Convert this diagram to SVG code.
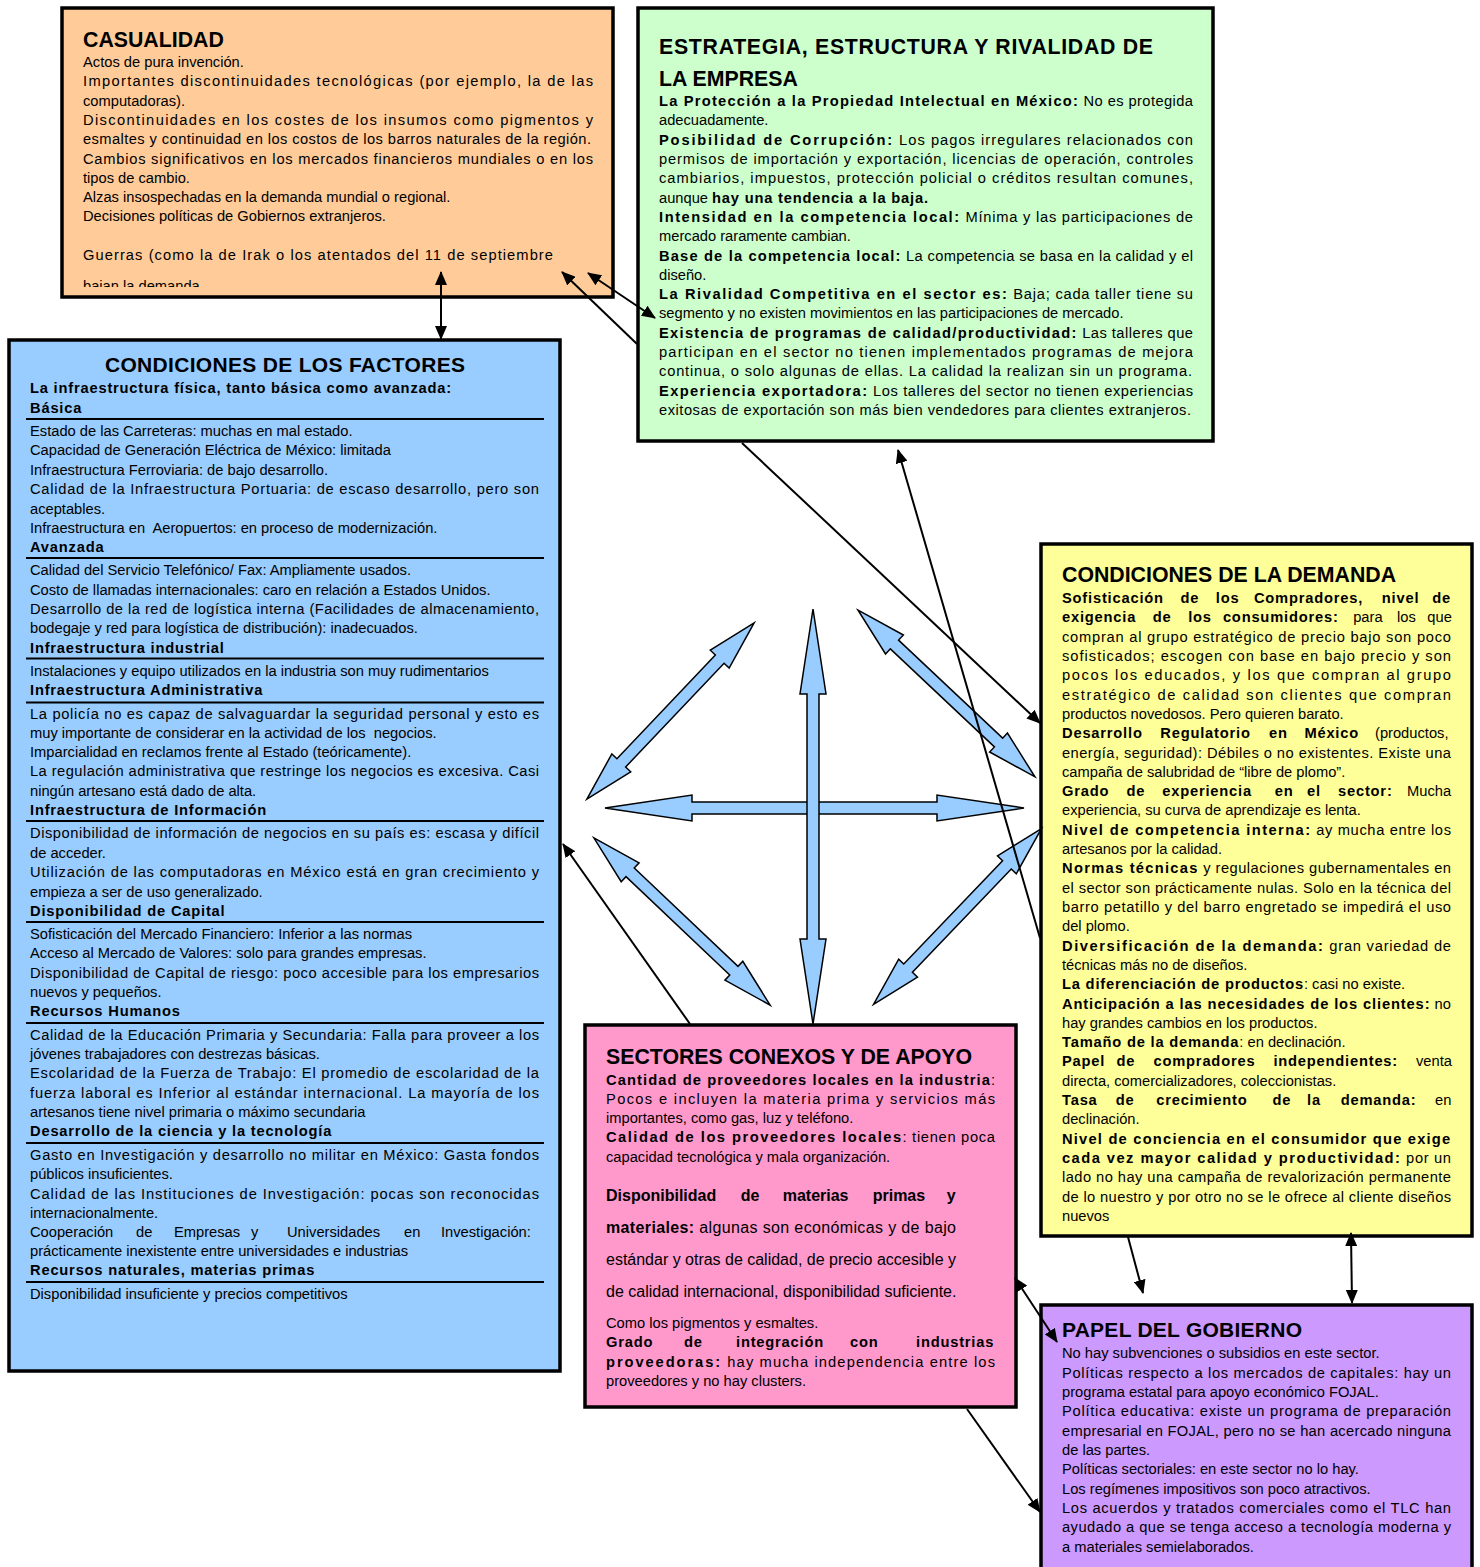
<svg xmlns="http://www.w3.org/2000/svg" xmlns:xlink="http://www.w3.org/1999/xlink" width="1480" height="1567" viewBox="0 0 1480 1567">
<style>
.box{stroke:#000;stroke-width:3.5}
.t{font-family:"Liberation Sans",Arial,sans-serif;font-size:14.7px;fill:#000}
.b{font-weight:bold;letter-spacing:0.8px}
.h{font-family:"Liberation Sans",Arial,sans-serif;font-size:21.3px;font-weight:bold;fill:#000}
.a{font-family:"Liberation Sans",Arial,sans-serif;font-size:16px;fill:#000}
.ab{font-weight:bold}
.sep{stroke:#000;stroke-width:2}
.c{stroke:#000;stroke-width:2;fill:none}
.blue{fill:#99CCFF;stroke:#000;stroke-width:1.5}
</style>
<defs>
<marker id="ah" viewBox="0 0 14 12" refX="13" refY="6" markerWidth="14" markerHeight="12" markerUnits="userSpaceOnUse" orient="auto-start-reverse"><path d="M0,0L14,6L0,12z" fill="#000"/></marker>
<polygon id="diag" points="-121.5,0 -71.5,-13 -71.5,-6 71.5,-6 71.5,-13 121.5,0 71.5,13 71.5,6 -71.5,6 -71.5,13"/>
<clipPath id="clipCas"><rect x="64" y="10" width="547" height="277"/></clipPath>
</defs>
<rect width="1480" height="1567" fill="#fff"/>

<g id="casualidad">
<rect class="box" x="62" y="8" width="551" height="289" fill="#FFCC99"/>
<text class="h" x="83" y="47">CASUALIDAD</text>
<g clip-path="url(#clipCas)">
<text class="t" x="83" y="67">Actos de pura invención.</text>
<text class="t" x="83" y="86.3" textLength="510" lengthAdjust="spacing">Importantes discontinuidades tecnológicas (por ejemplo, la de las</text>
<text class="t" x="83" y="105.6">computadoras).</text>
<text class="t" x="83" y="124.9" textLength="510" lengthAdjust="spacing">Discontinuidades en los costes de los insumos como pigmentos y</text>
<text class="t" x="83" y="144.2" textLength="508" lengthAdjust="spacing">esmaltes y continuidad en los costos de los barros naturales de la región.</text>
<text class="t" x="83" y="163.5" textLength="510" lengthAdjust="spacing">Cambios significativos en los mercados financieros mundiales o en los</text>
<text class="t" x="83" y="182.8">tipos de cambio.</text>
<text class="t" x="83" y="202.1">Alzas insospechadas en la demanda mundial o regional.</text>
<text class="t" x="83" y="221.4">Decisiones políticas de Gobiernos extranjeros.</text>
<text class="t" x="83" y="260" textLength="470" lengthAdjust="spacing">Guerras (como la de Irak o los atentados del 11 de septiembre</text>
<text class="t" x="83" y="291">bajan la demanda</text>
</g>
</g>

<g id="estrategia">
<rect class="box" x="638" y="8" width="575" height="433" fill="#CCFFCC"/>
<text class="h" x="659" y="54" textLength="494" lengthAdjust="spacing">ESTRATEGIA, ESTRUCTURA Y RIVALIDAD DE</text>
<text class="h" x="659" y="86">LA EMPRESA</text>
<text class="t" x="659" y="106" textLength="534" lengthAdjust="spacing"><tspan class="b">La Protección a la Propiedad Intelectual en México:</tspan> No es protegida</text>
<text class="t" x="659" y="125.3">adecuadamente.</text>
<text class="t" x="659" y="144.6" textLength="534" lengthAdjust="spacing"><tspan class="b">Posibilidad de Corrupción:</tspan> Los pagos irregulares  relacionados con</text>
<text class="t" x="659" y="163.9" textLength="534" lengthAdjust="spacing">permisos de importación y exportación, licencias de operación, controles</text>
<text class="t" x="659" y="183.2" textLength="534" lengthAdjust="spacing">cambiarios, impuestos, protección policial o créditos resultan comunes,</text>
<text class="t" x="659" y="202.6">aunque <tspan class="b">hay una tendencia a la baja.</tspan></text>
<text class="t" x="659" y="221.9" textLength="534" lengthAdjust="spacing"><tspan class="b">Intensidad en la competencia local:</tspan> Mínima y las participaciones de</text>
<text class="t" x="659" y="241.2">mercado raramente cambian.</text>
<text class="t" x="659" y="260.5" textLength="534" lengthAdjust="spacing"><tspan class="b">Base de la competencia local:</tspan> La competencia se basa en la calidad y el</text>
<text class="t" x="659" y="279.8">diseño.</text>
<text class="t" x="659" y="299.1" textLength="534" lengthAdjust="spacing"><tspan class="b">La Rivalidad Competitiva en el sector es:</tspan> Baja; cada taller tiene su</text>
<text class="t" x="659" y="318.4">segmento y no existen movimientos en las participaciones de mercado.</text>
<text class="t" x="659" y="337.7" textLength="534" lengthAdjust="spacing"><tspan class="b">Existencia de programas de calidad/productividad:</tspan> Las talleres que</text>
<text class="t" x="659" y="357" textLength="534" lengthAdjust="spacing">participan en el sector no tienen implementados programas de mejora</text>
<text class="t" x="659" y="376.3" textLength="533" lengthAdjust="spacing">continua, o solo algunas de ellas. La calidad la realizan sin un programa.</text>
<text class="t" x="659" y="395.7" textLength="534" lengthAdjust="spacing"><tspan class="b">Experiencia exportadora:</tspan> Los talleres del sector no tienen experiencias</text>
<text class="t" x="659" y="415" textLength="532" lengthAdjust="spacing">exitosas de exportación son más bien vendedores para clientes extranjeros.</text>
</g>

<g id="factores">
<rect class="box" x="9" y="340" width="551" height="1031" fill="#99CCFF"/>
<text class="h" x="105" y="372" style="font-size:21px" textLength="360" lengthAdjust="spacing">CONDICIONES DE LOS FACTORES</text>
<text class="t b" x="30" y="392.5">La infraestructura física, tanto básica como avanzada:</text>
<text class="t b" x="30" y="412.5">Básica</text>
<line class="sep" x1="26" y1="419" x2="544" y2="419"/>
<text class="t" x="30" y="435.5">Estado de las Carreteras: muchas en mal estado.</text>
<text class="t" x="30" y="455">Capacidad de Generación Eléctrica de México: limitada</text>
<text class="t" x="30" y="474.5">Infraestructura Ferroviaria: de bajo desarrollo.</text>
<text class="t" x="30" y="494" textLength="509" lengthAdjust="spacing">Calidad de la Infraestructura Portuaria: de escaso desarrollo, pero son</text>
<text class="t" x="30" y="513.5">aceptables.</text>
<text class="t" x="30" y="533">Infraestructura en&#160; Aeropuertos: en proceso de modernización.</text>
<text class="t b" x="30" y="552">Avanzada</text>
<line class="sep" x1="26" y1="558" x2="544" y2="558"/>
<text class="t" x="30" y="575">Calidad del Servicio Telefónico/ Fax: Ampliamente usados.</text>
<text class="t" x="30" y="594.5">Costo de llamadas internacionales: caro en relación a Estados Unidos.</text>
<text class="t" x="30" y="614" textLength="509" lengthAdjust="spacing">Desarrollo de la red de logística interna (Facilidades de almacenamiento,</text>
<text class="t" x="30" y="633">bodegaje y red para logística de distribución): inadecuados.</text>
<text class="t b" x="30" y="652.5">Infraestructura industrial</text>
<line class="sep" x1="26" y1="658.5" x2="544" y2="658.5"/>
<text class="t" x="30" y="676">Instalaciones y equipo utilizados en la industria son muy rudimentarios</text>
<text class="t b" x="30" y="694.5">Infraestructura Administrativa</text>
<line class="sep" x1="26" y1="702.5" x2="544" y2="702.5"/>
<text class="t" x="30" y="718.5" textLength="509" lengthAdjust="spacing">La policía no es capaz de salvaguardar la seguridad personal y esto es</text>
<text class="t" x="30" y="737.5">muy importante de considerar en la actividad de los&#160; negocios.</text>
<text class="t" x="30" y="757">Imparcialidad en reclamos frente al Estado (teóricamente).</text>
<text class="t" x="30" y="776" textLength="509" lengthAdjust="spacing">La regulación administrativa que restringe los negocios es excesiva. Casi</text>
<text class="t" x="30" y="795.5">ningún artesano está dado de alta.</text>
<text class="t b" x="30" y="815">Infraestructura de Información</text>
<line class="sep" x1="26" y1="821" x2="544" y2="821"/>
<text class="t" x="30" y="838" textLength="509" lengthAdjust="spacing">Disponibilidad de información de negocios en su país es: escasa y difícil</text>
<text class="t" x="30" y="857.5">de acceder.</text>
<text class="t" x="30" y="877" textLength="509" lengthAdjust="spacing">Utilización de las computadoras en México está en gran crecimiento y</text>
<text class="t" x="30" y="896.5">empieza a ser de uso generalizado.</text>
<text class="t b" x="30" y="916">Disponibilidad de Capital</text>
<line class="sep" x1="26" y1="922" x2="544" y2="922"/>
<text class="t" x="30" y="939">Sofisticación del Mercado Financiero: Inferior a las normas</text>
<text class="t" x="30" y="958">Acceso al Mercado de Valores: solo para grandes empresas.</text>
<text class="t" x="30" y="977.5" textLength="509" lengthAdjust="spacing">Disponibilidad de Capital de riesgo: poco accesible para los empresarios</text>
<text class="t" x="30" y="997">nuevos y pequeños.</text>
<text class="t b" x="30" y="1016">Recursos Humanos</text>
<line class="sep" x1="26" y1="1023" x2="544" y2="1023"/>
<text class="t" x="30" y="1039.5" textLength="509" lengthAdjust="spacing">Calidad de la Educación Primaria y Secundaria: Falla para proveer a los</text>
<text class="t" x="30" y="1059">jóvenes trabajadores con destrezas básicas.</text>
<text class="t" x="30" y="1078" textLength="509" lengthAdjust="spacing">Escolaridad de la Fuerza de Trabajo: El promedio de escolaridad de la</text>
<text class="t" x="30" y="1097.5" textLength="509" lengthAdjust="spacing">fuerza laboral es Inferior al estándar internacional. La mayoría de los</text>
<text class="t" x="30" y="1117">artesanos tiene nivel primaria o máximo secundaria</text>
<text class="t b" x="30" y="1136">Desarrollo de la ciencia y la tecnología</text>
<line class="sep" x1="26" y1="1143" x2="544" y2="1143"/>
<text class="t" x="30" y="1159.5" textLength="509" lengthAdjust="spacing">Gasto en Investigación y desarrollo no militar en México: Gasta fondos</text>
<text class="t" x="30" y="1179">públicos insuficientes.</text>
<text class="t" x="30" y="1198.5" textLength="509" lengthAdjust="spacing">Calidad de las Instituciones de Investigación: pocas  son reconocidas</text>
<text class="t" x="30" y="1218">internacionalmente.</text>
<text class="t" y="1237"><tspan x="30">Cooperación</tspan><tspan x="136">de</tspan><tspan x="174">Empresas</tspan><tspan x="251">y</tspan><tspan x="287">Universidades</tspan><tspan x="404">en</tspan><tspan x="441">Investigación:</tspan></text>
<text class="t" x="30" y="1256">prácticamente inexistente entre universidades e industrias</text>
<text class="t b" x="30" y="1275">Recursos naturales, materias primas</text>
<line class="sep" x1="26" y1="1282" x2="544" y2="1282"/>
<text class="t" x="30" y="1298.5">Disponibilidad insuficiente y precios competitivos</text>
</g>

<g id="demanda">
<rect class="box" x="1041" y="544" width="431" height="692" fill="#FFFF99"/>
<text class="h" x="1062" y="582">CONDICIONES DE LA DEMANDA</text>
<text class="t b" y="603"><tspan x="1062">Sofisticación</tspan><tspan x="1180.5">de</tspan><tspan x="1215.8">los</tspan><tspan x="1253.9">Compradores,</tspan><tspan x="1381.8">nivel</tspan><tspan x="1432.3">de</tspan></text>
<text class="t" y="622.3"><tspan class="b" x="1062">exigencia</tspan><tspan class="b" x="1152.8">de</tspan><tspan class="b" x="1188.2">los</tspan><tspan class="b" x="1222.9">consumidores:</tspan><tspan x="1353.2">para</tspan><tspan x="1397">los</tspan><tspan x="1427.3">que</tspan></text>
<text class="t" x="1062" y="641.6" textLength="389" lengthAdjust="spacing">compran al grupo estratégico de precio bajo son poco</text>
<text class="t" x="1062" y="660.9" textLength="389" lengthAdjust="spacing">sofisticados; escogen con base en bajo precio y son</text>
<text class="t" x="1062" y="680.2" textLength="389" lengthAdjust="spacing">pocos los educados, y los que compran al grupo</text>
<text class="t" x="1062" y="699.6" textLength="389" lengthAdjust="spacing">estratégico de calidad son  clientes que compran</text>
<text class="t" x="1062" y="718.9">productos novedosos. Pero quieren barato.</text>
<text class="t" y="738.2"><tspan class="b" x="1062">Desarrollo</tspan><tspan class="b" x="1160.3">Regulatorio</tspan><tspan class="b" x="1269">en</tspan><tspan class="b" x="1304.4">México</tspan><tspan x="1375">(productos,</tspan></text>
<text class="t" x="1062" y="757.5" textLength="389" lengthAdjust="spacing">energía, seguridad): Débiles o no existentes. Existe una</text>
<text class="t" x="1062" y="776.8">campaña de salubridad de “libre de plomo”.</text>
<text class="t" y="796.1"><tspan class="b" x="1062">Grado</tspan><tspan class="b" x="1126.6">de</tspan><tspan class="b" x="1162.3">experiencia</tspan><tspan class="b" x="1274.7">en</tspan><tspan class="b" x="1307">el</tspan><tspan class="b" x="1338">sector:</tspan><tspan x="1407">Mucha</tspan></text>
<text class="t" x="1062" y="815.4">experiencia, su curva de aprendizaje es lenta.</text>
<text class="t" x="1062" y="834.7" textLength="389" lengthAdjust="spacing"><tspan class="b">Nivel de competencia interna:</tspan> ay mucha entre los</text>
<text class="t" x="1062" y="854">artesanos por la calidad.</text>
<text class="t" x="1062" y="873.3" textLength="389" lengthAdjust="spacing"><tspan class="b">Normas técnicas</tspan> y regulaciones gubernamentales en</text>
<text class="t" x="1062" y="892.6" textLength="389" lengthAdjust="spacing">el sector son prácticamente nulas. Solo en la técnica del</text>
<text class="t" x="1062" y="911.9" textLength="389" lengthAdjust="spacing">barro petatillo y del barro engretado se impedirá el uso</text>
<text class="t" x="1062" y="931.2">del plomo.</text>
<text class="t" x="1062" y="950.6" textLength="389" lengthAdjust="spacing"><tspan class="b">Diversificación de la demanda:</tspan> gran variedad de</text>
<text class="t" x="1062" y="969.9">técnicas más no de diseños.</text>
<text class="t" x="1062" y="989.2"><tspan class="b">La diferenciación de productos</tspan>: casi no existe.</text>
<text class="t" x="1062" y="1008.5" textLength="389" lengthAdjust="spacing"><tspan class="b">Anticipación a las necesidades de los clientes:</tspan> no</text>
<text class="t" x="1062" y="1027.8">hay grandes cambios en los productos.</text>
<text class="t" x="1062" y="1047.1"><tspan class="b">Tamaño de la demanda</tspan>: en declinación.</text>
<text class="t" y="1066.4"><tspan class="b" x="1062">Papel</tspan><tspan class="b" x="1116.5">de</tspan><tspan class="b" x="1153.5">compradores</tspan><tspan class="b" x="1273.4">independientes:</tspan><tspan x="1416">venta</tspan></text>
<text class="t" x="1062" y="1085.7">directa, comercializadores, coleccionistas.</text>
<text class="t" y="1105"><tspan class="b" x="1062">Tasa</tspan><tspan class="b" x="1115.8">de</tspan><tspan class="b" x="1156.2">crecimiento</tspan><tspan class="b" x="1272.4">de</tspan><tspan class="b" x="1307">la</tspan><tspan class="b" x="1340.7">demanda:</tspan><tspan x="1435">en</tspan></text>
<text class="t" x="1062" y="1124.3">declinación.</text>
<text class="t b" x="1062" y="1143.6" textLength="389" lengthAdjust="spacing">Nivel de conciencia en el consumidor que exige</text>
<text class="t" x="1062" y="1163" textLength="389" lengthAdjust="spacing"><tspan class="b">cada vez mayor calidad y productividad:</tspan> por un</text>
<text class="t" x="1062" y="1182.3" textLength="389" lengthAdjust="spacing">lado no hay una campaña de revalorización permanente</text>
<text class="t" x="1062" y="1201.6" textLength="389" lengthAdjust="spacing">de lo nuestro y por otro no se le ofrece al cliente diseños</text>
<text class="t" x="1062" y="1220.9">nuevos</text>
</g>

<g id="sectores">
<rect class="box" x="585" y="1025" width="431" height="382" fill="#FF99CC"/>
<text class="h" x="606" y="1064">SECTORES CONEXOS Y DE APOYO</text>
<text class="t" x="606" y="1084.5" textLength="389" lengthAdjust="spacing"><tspan class="b">Cantidad de proveedores locales en la industria</tspan>:</text>
<text class="t" x="606" y="1103.8" textLength="389" lengthAdjust="spacing">Pocos e incluyen la materia prima y servicios más</text>
<text class="t" x="606" y="1123.1">importantes, como gas, luz y teléfono.</text>
<text class="t" x="606" y="1142.4" textLength="389" lengthAdjust="spacing"><tspan class="b">Calidad de los proveedores locales</tspan>: tienen poca</text>
<text class="t" x="606" y="1161.7">capacidad tecnológica y mala organización.</text>
<text class="a ab" y="1201"><tspan x="606">Disponibilidad</tspan><tspan x="740.7">de</tspan><tspan x="782.7">materias</tspan><tspan x="872.7">primas</tspan><tspan x="946.7">y</tspan></text>
<text class="a" x="606" y="1233" textLength="350" lengthAdjust="spacing"><tspan class="ab">materiales:</tspan> algunas son económicas y de bajo</text>
<text class="a" x="606" y="1265" textLength="350" lengthAdjust="spacing">estándar y otras de calidad, de precio accesible y</text>
<text class="a" x="606" y="1296.5">de calidad internacional, disponibilidad suficiente.</text>
<text class="t" x="606" y="1328">Como los pigmentos y esmaltes.</text>
<text class="t b" y="1347.3"><tspan x="606">Grado</tspan><tspan x="684">de</tspan><tspan x="736">integración</tspan><tspan x="850">con</tspan><tspan x="916">industrias</tspan></text>
<text class="t" x="606" y="1366.6" textLength="389" lengthAdjust="spacing"><tspan class="b">proveedoras:</tspan> hay mucha independencia entre los</text>
<text class="t" x="606" y="1386">proveedores y no hay clusters.</text>
</g>

<g id="gobierno">
<rect class="box" x="1041" y="1305" width="431" height="275" fill="#CC99FF"/>
<text class="h" x="1062" y="1337" style="font-size:21px" textLength="240" lengthAdjust="spacing">PAPEL DEL GOBIERNO</text>
<text class="t" x="1062" y="1358.3">No hay subvenciones o subsidios en este sector.</text>
<text class="t" x="1062" y="1377.6" textLength="389" lengthAdjust="spacing">Políticas respecto a los mercados de capitales: hay un</text>
<text class="t" x="1062" y="1397">programa estatal para apoyo económico FOJAL.</text>
<text class="t" x="1062" y="1416.3" textLength="389" lengthAdjust="spacing">Política educativa: existe un programa de preparación</text>
<text class="t" x="1062" y="1435.6" textLength="389" lengthAdjust="spacing">empresarial en FOJAL, pero no se han acercado ninguna</text>
<text class="t" x="1062" y="1455">de las partes.</text>
<text class="t" x="1062" y="1474.3">Políticas sectoriales: en este sector no lo hay.</text>
<text class="t" x="1062" y="1493.6">Los regímenes impositivos son poco atractivos.</text>
<text class="t" x="1062" y="1513" textLength="389" lengthAdjust="spacing">Los acuerdos y tratados comerciales como el TLC han</text>
<text class="t" x="1062" y="1532.3" textLength="389" lengthAdjust="spacing">ayudado a que se tenga acceso a tecnología moderna y</text>
<text class="t" x="1062" y="1551.6">a materiales semielaborados.</text>
</g>

<g id="connectors">
<g id="diamond-arrows">
<polygon class="blue" transform="translate(814.5,808)" points="-209.5,0 -122.5,-13 -122.5,-6 122.5,-6 122.5,-13 209.5,0 122.5,13 122.5,6 -122.5,6 -122.5,13"/>
<polygon class="blue" transform="translate(813,816.5) rotate(90)" points="-207.5,0 -122.5,-13 -122.5,-6 122.5,-6 122.5,-13 207.5,0 122.5,13 122.5,6 -122.5,6 -122.5,13"/>
<use xlink:href="#diag" class="blue" transform="translate(670.5,711) rotate(-46.5)"/>
<use xlink:href="#diag" class="blue" transform="translate(946.5,693.5) rotate(43.3)"/>
<use xlink:href="#diag" class="blue" transform="translate(682,921.5) rotate(43.5)"/>
<use xlink:href="#diag" class="blue" transform="translate(957.5,916.5) rotate(-46.3)"/>
</g>
<line class="c" x1="441" y1="272" x2="441" y2="339" marker-start="url(#ah)" marker-end="url(#ah)"/>
<line class="c" x1="637" y1="344" x2="562" y2="272" marker-end="url(#ah)"/>
<line class="c" x1="588" y1="273" x2="655" y2="318" marker-start="url(#ah)" marker-end="url(#ah)"/>
<line class="c" x1="742" y1="443" x2="1040" y2="723" marker-end="url(#ah)"/>
<line class="c" x1="1040" y1="938" x2="898" y2="450" marker-end="url(#ah)"/>
<line class="c" x1="690" y1="1024" x2="563" y2="844" marker-end="url(#ah)"/>
<line class="c" x1="1128" y1="1237" x2="1143" y2="1293" marker-end="url(#ah)"/>
<line class="c" x1="1351" y1="1233" x2="1352" y2="1303" marker-start="url(#ah)" marker-end="url(#ah)"/>
<line class="c" x1="1015" y1="1278" x2="1057" y2="1342" marker-start="url(#ah)" marker-end="url(#ah)"/>
<line class="c" x1="967" y1="1409" x2="1040" y2="1512" marker-end="url(#ah)"/>
</g>
</svg>
